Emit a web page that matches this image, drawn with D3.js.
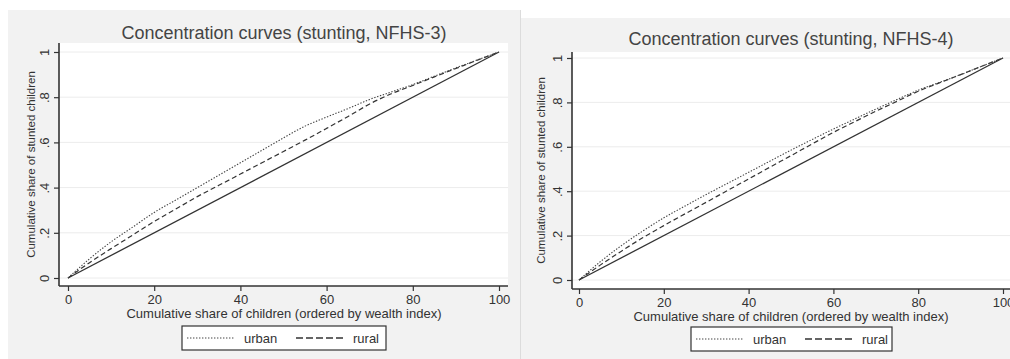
<!DOCTYPE html>
<html>
<head>
<meta charset="utf-8">
<script src="https://cdn.jsdelivr.net/npm/d3@7"></script>
<style>
  body { margin: 0; background: #fff; }
  svg { display: block; font-family: "Liberation Sans", Arial, Helvetica, sans-serif; }
</style>
</head>
<body>
<div id="chart"></div>
<script>
// cumulative share of children (x, %), read at steps of 5
var shareX = [0, 5, 10, 15, 20, 25, 30, 35, 40, 45, 50, 55, 60, 65, 70, 75, 80, 85, 90, 95, 100];

// NFHS-3
var urban3 = [0, .085, .16, .225, .29, .345, .40, .455, .51, .565, .62, .672, .712, .75, .79, .823, .856, .893, .93, .965, 1];
var rural3 = [0, .068, .13, .19, .25, .305, .36, .41, .46, .51, .56, .61, .662, .715, .77, .815, .852, .89, .927, .964, 1];

// NFHS-4
var urban4 = [0, .082, .155, .22, .28, .333, .385, .435, .485, .535, .585, .633, .68, .725, .77, .813, .855, .89, .925, .963, 1];
var rural4 = [0, .067, .13, .19, .245, .298, .35, .403, .455, .508, .56, .613, .665, .713, .76, .805, .85, .888, .925, .963, 1];

// line of equality
var equalX = [0, 100];
var equalY = [0, 1];

var xTicks = [0, 20, 40, 60, 80, 100];
var yTicks = [0, .2, .4, .6, .8, 1];

var titles = ["Concentration curves (stunting, NFHS-3)", "Concentration curves (stunting, NFHS-4)"];
var xTitle = "Cumulative share of children (ordered by wealth index)";
var yTitle = "Cumulative share of stunted children";
var legendLabels = ["urban", "rural"];

var svg = d3.select("#chart").append("svg")
  .attr("width", 1010)
  .attr("height", 359);

function fmtY(d) {
  if (d === 0) return "0";
  if (d === 1) return "1";
  return d3.format(".1f")(d).replace(/^0/, "");
}

function drawPanel(p, urban, rural, title) {
  // panel background
  svg.append("rect")
    .attr("x", p.bx).attr("y", p.by)
    .attr("width", p.bw).attr("height", 359 - p.by)
    .attr("fill", "#f2f2f2");

  // plot region
  svg.append("rect")
    .attr("x", p.left).attr("y", p.top)
    .attr("width", p.right - p.left).attr("height", p.bottom - p.top)
    .attr("fill", "#fff");

  var x = d3.scaleLinear().domain([0, 100]).range([p.x0, p.x1]);
  var y = d3.scaleLinear().domain([0, 1]).range([p.y0, p.y1]);

  // faint grid
  svg.append("g").selectAll("line")
    .data(yTicks)
    .enter().append("line")
    .attr("x1", p.left).attr("x2", p.right)
    .attr("y1", function(d) { return y(d); })
    .attr("y2", function(d) { return y(d); })
    .attr("stroke", "#ececec")
    .attr("stroke-width", 1);

  var line = d3.line()
    .x(function(d) { return x(d[0]); })
    .y(function(d) { return y(d[1]); })
    .curve(d3.curveMonotoneX);

  svg.append("path")
    .datum(equalX.map(function(v, i) { return [v, equalY[i]]; }))
    .attr("d", line)
    .attr("fill", "none")
    .attr("stroke", "#333")
    .attr("stroke-width", 1.3);

  svg.append("path")
    .datum(shareX.map(function(v, i) { return [v, rural[i]]; }))
    .attr("d", line)
    .attr("fill", "none")
    .attr("stroke", "#333")
    .attr("stroke-width", 1.2)
    .attr("stroke-dasharray", "5,3");

  svg.append("path")
    .datum(shareX.map(function(v, i) { return [v, urban[i]]; }))
    .attr("d", line)
    .attr("fill", "none")
    .attr("stroke", "#444")
    .attr("stroke-width", 1.1)
    .attr("stroke-dasharray", "1.4,1.6");

  // axes
  var bottomAxis = d3.axisBottom(x).tickValues(xTicks).tickSize(5).tickSizeOuter(0).tickFormat(d3.format("d"));
  var leftAxis = d3.axisLeft(y).tickValues(yTicks).tickSize(5).tickSizeOuter(0).tickFormat(fmtY);

  var gx = svg.append("g")
    .attr("transform", "translate(0," + p.bottom + ")")
    .call(bottomAxis);
  gx.select(".domain").remove();
  gx.selectAll("line").attr("stroke", "#333").attr("stroke-width", 1.2);
  gx.selectAll("text")
    .attr("y", 9)
    .attr("font-size", 13)
    .attr("font-family", "Liberation Sans, Arial, sans-serif")
    .attr("fill", "#333");

  var gy = svg.append("g")
    .attr("transform", "translate(" + p.left + ",0)")
    .call(leftAxis);
  gy.select(".domain").remove();
  gy.selectAll("line").attr("stroke", "#333").attr("stroke-width", 1.2);
  gy.selectAll("text")
    .attr("x", 0).attr("dy", null)
    .attr("text-anchor", "middle")
    .attr("transform", "translate(-10,0) rotate(-90)")
    .attr("font-size", 13)
    .attr("font-family", "Liberation Sans, Arial, sans-serif")
    .attr("fill", "#333");

  svg.append("line")
    .attr("x1", p.left).attr("x2", p.left)
    .attr("y1", p.top).attr("y2", p.bottom)
    .attr("stroke", "#333").attr("stroke-width", 1.6);
  svg.append("line")
    .attr("x1", p.left).attr("x2", p.right)
    .attr("y1", p.bottom).attr("y2", p.bottom)
    .attr("stroke", "#333").attr("stroke-width", 1.6);

  // titles
  svg.append("text")
    .attr("x", p.titleX).attr("y", p.titleY)
    .attr("text-anchor", "middle")
    .attr("font-size", 18)
    .attr("fill", "#444")
    .text(title);

  svg.append("text")
    .attr("x", p.titleX).attr("y", p.bottom + 32)
    .attr("text-anchor", "middle")
    .attr("font-size", 13)
    .attr("fill", "#333")
    .text(xTitle);

  svg.append("text")
    .attr("transform", "translate(" + p.yTitleX + "," + ((p.top + p.bottom) / 2) + ") rotate(-90)")
    .attr("text-anchor", "middle")
    .attr("font-size", 11.5)
    .attr("fill", "#333")
    .text(yTitle);

  // legend
  var lg = svg.append("g").attr("transform", "translate(" + p.legX + "," + p.legY + ")");
  lg.append("rect")
    .attr("width", p.legW).attr("height", 24)
    .attr("fill", "#fff")
    .attr("stroke", "#333")
    .attr("stroke-width", 1.2);
  lg.append("line")
    .attr("x1", 5).attr("x2", 52).attr("y1", 12).attr("y2", 12)
    .attr("stroke", "#444").attr("stroke-width", 1.1)
    .attr("stroke-dasharray", "1.4,1.6");
  lg.append("text").attr("x", 62).attr("y", 17)
    .attr("font-size", 13).attr("fill", "#333")
    .text(legendLabels[0]);
  lg.append("line")
    .attr("x1", 114).attr("x2", 164).attr("y1", 12).attr("y2", 12)
    .attr("stroke", "#333").attr("stroke-width", 1.4)
    .attr("stroke-dasharray", "7,3");
  lg.append("text").attr("x", 171).attr("y", 17)
    .attr("font-size", 13).attr("fill", "#333")
    .text(legendLabels[1]);
}

drawPanel({
  bx: 8, by: 10, bw: 512,
  left: 59, right: 508, top: 43, bottom: 286,
  x0: 68, x1: 499, y0: 278, y1: 52,
  titleX: 284, titleY: 39, yTitleX: 35,
  legX: 182, legY: 326, legW: 204
}, urban3, rural3, titles[0]);

svg.append("line")
  .attr("x1", 520.5).attr("x2", 520.5).attr("y1", 10).attr("y2", 359)
  .attr("stroke", "#dcdcdc");

drawPanel({
  bx: 521, by: 18, bw: 489,
  left: 572, right: 1010, top: 52, bottom: 289,
  x0: 579, x1: 1003, y0: 280, y1: 58,
  titleX: 791, titleY: 45, yTitleX: 545,
  legX: 691, legY: 327, legW: 201
}, urban4, rural4, titles[1]);
</script>
</body>
</html>
